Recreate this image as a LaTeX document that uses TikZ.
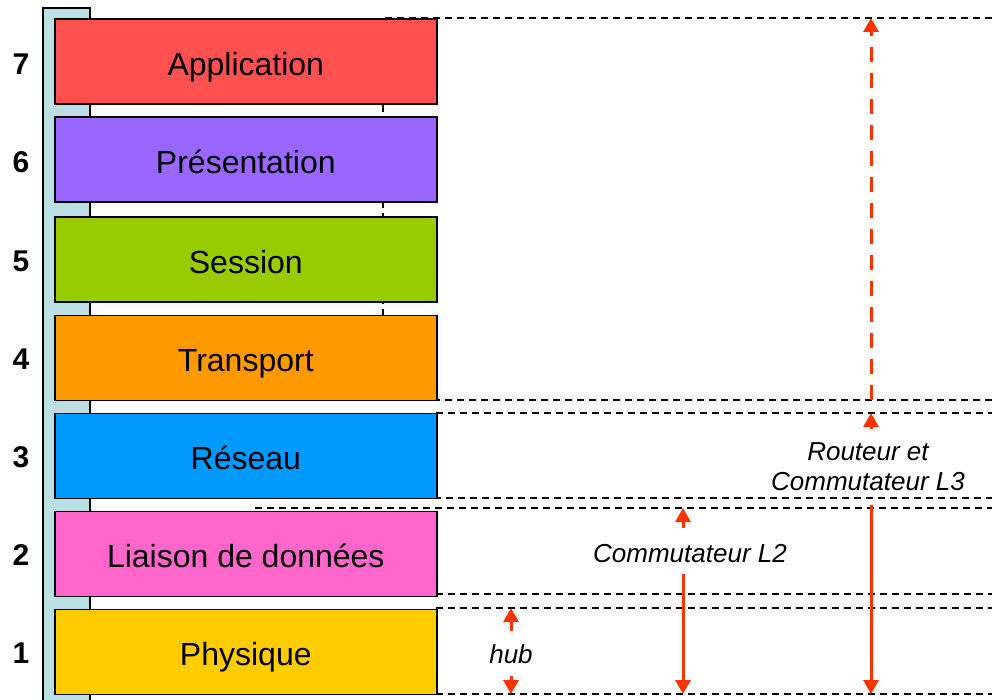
\documentclass[tikz,border=0pt]{standalone}
\usepackage{fontspec}
\setmainfont{Liberation Sans}
\usetikzlibrary{arrows.meta}
\definecolor{cApp}{HTML}{FF5050}
\definecolor{cPres}{HTML}{9966FF}
\definecolor{cSess}{HTML}{99CC00}
\definecolor{cTrans}{HTML}{FF9900}
\definecolor{cRes}{HTML}{0099FF}
\definecolor{cLiai}{HTML}{FF66CC}
\definecolor{cPhys}{HTML}{FFCC00}
\definecolor{cBar}{HTML}{BCDFE4}
\definecolor{cArrow}{HTML}{FF3300}
\begin{document}
\begin{tikzpicture}[x=1pt,y=-1pt,
  layerbox/.style={draw=black, line width=1.6pt, minimum width=382pt, minimum height=85pt,
    anchor=north west, inner sep=0pt, text height=28pt, text depth=0pt,
    font=\fontsize{32}{38}\selectfont},
  num/.style={font=\bfseries\fontsize{30}{36}\selectfont},
  guide/.style={draw=black, line width=1.5pt, dash pattern=on 7pt off 5pt},
  redarrow/.style={draw=cArrow, line width=3pt, -{Triangle[width=15pt,length=14pt]}},
  reddashed/.style={redarrow, dash pattern=on 15pt off 11pt},
  devlbl/.style={font=\itshape\fontsize{26}{30}\selectfont, align=center, inner sep=0pt}]
\useasboundingbox[fill=white] (0,0) rectangle (992,700);
% side bar
\draw[fill=cBar, line width=1.5pt] (43,8) rectangle (90,705);
% guide lines
\draw[guide] (383,400) -- (383,18) -- (995,18);
\draw[guide] (385,400) -- (995,400);
\draw[guide] (436,413) -- (995,413);
\draw[guide] (410,498) -- (995,498);
\draw[guide] (255,520) -- (255,508) -- (995,508);
\draw[guide] (436,594) -- (995,594);
\draw[guide] (436,608) -- (995,608);
\draw[guide] (436,694) -- (995,694);
% layers
\node[layerbox, fill=cApp]   (L7) at (54,18.5) {Application};
\node[layerbox, fill=cPres]  (L6) at (54,116.5) {Présentation};
\node[layerbox, fill=cSess]  (L5) at (54,216) {Session};
\node[layerbox, fill=cTrans] (L4) at (54,314.5) {Transport};
\node[layerbox, fill=cRes]   (L3) at (54,412.5) {Réseau};
\node[layerbox, fill=cLiai]  (L2) at (54,510.5) {Liaison de données};
\node[layerbox, fill=cPhys]  (L1) at (54,608.5) {Physique};
% numbers
\node[num] (n7) at (21,64) {7};
\node[num] (n6) at (21,162) {6};
\node[num] (n5) at (21,261) {5};
\node[num] (n4) at (21,359) {4};
\node[num] (n3) at (21,457) {3};
\node[num] (n2) at (21,555) {2};
\node[num] (n1) at (21,653) {1};
% device labels
\node[devlbl] (hub) at (511,654) {hub};
\node[devlbl] (sw2) at (690,554) {Commutateur L2};
\node[devlbl] (rt3) at (868,467) {Routeur et\\Commutateur L3};
% arrow end points
\coordinate (hubUpS) at (511,631);
\coordinate (hubUpE) at (511,608);
\coordinate (hubDnS) at (511,676);
\coordinate (hubDnE) at (511,694);
\coordinate (swUpS) at (683,528);
\coordinate (swUpE) at (683,508);
\coordinate (swDnS) at (683,574);
\coordinate (swDnE) at (683,694);
\coordinate (rtUpS) at (871,429);
\coordinate (rtUpE) at (871,413);
\coordinate (rtDaS) at (871,400);
\coordinate (rtDaE) at (871,18);
\coordinate (rtDnS) at (871,505);
\coordinate (rtDnE) at (871,694);
% arrows
\draw[redarrow] (hubUpS) -- (hubUpE);
\draw[redarrow] (hubDnS) -- (hubDnE);
\draw[redarrow] (swUpS) -- (swUpE);
\draw[redarrow] (swDnS) -- (swDnE);
\draw[redarrow] (rtUpS) -- (rtUpE);
\draw[reddashed] (rtDaS) -- (rtDaE);
\draw[redarrow] (rtDnS) -- (rtDnE);
\end{tikzpicture}
\end{document}
